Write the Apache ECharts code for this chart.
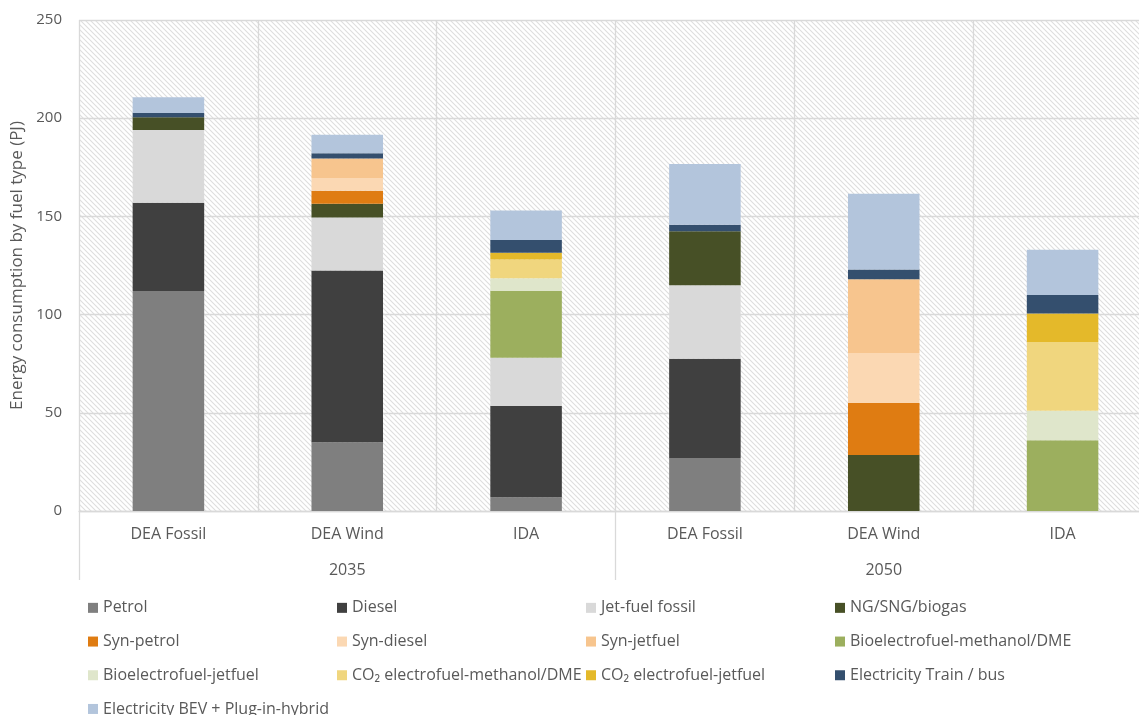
<!DOCTYPE html>
<html>
<head>
<meta charset="utf-8">
<script src="https://cdn.jsdelivr.net/npm/echarts@6/dist/echarts.min.js"></script>
<style>
html,body{margin:0;padding:0;background:#fff;overflow:hidden;}
#chart{width:1152px;height:715px;}
</style>
</head>
<body>
<div id="chart"></div>
<script>
// ---- Data ----
const categories = ['DEA Fossil', 'DEA Wind', 'IDA', 'DEA Fossil', 'DEA Wind', 'IDA'];
const years = ['2035', '2050'];
const yTicks = { min: 0, max: 250, interval: 50 };

const petrol       = [112, 35, 7, 27, 0, 0];
const diesel       = [45, 87.5, 46.5, 50.5, 0, 0];
const jetFossil    = [37, 27, 24.5, 37.5, 0, 0];
const ngSngBiogas  = [6.5, 7, 0, 27.5, 28.5, 0];
const synPetrol    = [0, 6.5, 0, 0, 26.5, 0];
const synDiesel    = [0, 6.5, 0, 0, 25.5, 0];
const synJetfuel   = [0, 10, 0, 0, 37.5, 0];
const bioMethanol  = [0, 0, 34, 0, 0, 36];
const bioJetfuel   = [0, 0, 6.5, 0, 0, 15];
const co2Methanol  = [0, 0, 9.5, 0, 0, 35];
const co2Jetfuel   = [0, 0, 3.5, 0, 0, 14.5];
const elecTrainBus = [2.2, 2.6, 6.5, 3.2, 5, 9.5];
const elecBEV      = [8, 9.5, 15, 31, 38.5, 23];

const seriesNames = ['Petrol', 'Diesel', 'Jet-fuel fossil', 'NG/SNG/biogas', 'Syn-petrol', 'Syn-diesel',
  'Syn-jetfuel', 'Bioelectrofuel-methanol/DME', 'Bioelectrofuel-jetfuel', 'CO\u2082 electrofuel-methanol/DME',
  'CO\u2082 electrofuel-jetfuel', 'Electricity Train / bus', 'Electricity BEV + Plug-in-hybrid'];
const seriesData = [petrol, diesel, jetFossil, ngSngBiogas, synPetrol, synDiesel, synJetfuel,
  bioMethanol, bioJetfuel, co2Methanol, co2Jetfuel, elecTrainBus, elecBEV];
const seriesColors = ['#7f7f7f', '#404040', '#d9d9d9', '#475026', '#df7c12', '#fbd8b3', '#f7c58e',
  '#9caf5e', '#dfe6cb', '#f0d67e', '#e4b92a', '#344f6e', '#b3c5dc'];

// ---- Hatch pattern ----
const tile = document.createElement('canvas');
tile.width = 5; tile.height = 5;
const tctx = tile.getContext('2d');
tctx.fillStyle = '#ffffff';
tctx.fillRect(0, 0, 5, 5);
tctx.strokeStyle = '#dedede';
tctx.lineWidth = 1.1;
tctx.beginPath();
tctx.moveTo(-1, -1); tctx.lineTo(6, 6);
tctx.moveTo(-1, 4); tctx.lineTo(1, 6);
tctx.moveTo(4, -1); tctx.lineTo(6, 1);
tctx.stroke();

const FONT = '"Open Sans", Lato, sans-serif';
const TXT = '#595959';
const GRIDC = '#d9d9d9';

const chart = echarts.init(document.getElementById('chart'), null, { renderer: 'canvas' });
chart.setOption({
  animation: false,
  textStyle: { fontFamily: FONT },
  grid: {
    left: 79, top: 20, bottom: 204, right: 0,
    show: true,
    backgroundColor: { image: tile, repeat: 'repeat' },
    borderWidth: 0
  },
  legend: {
    left: 88, top: 591, width: 1060,
    padding: 0,
    orient: 'horizontal',
    itemGap: 0,
    itemWidth: 10, itemHeight: 10,
    icon: 'rect',
    data: seriesNames,
    textStyle: { fontFamily: FONT, fontSize: 16, color: TXT, width: 234, lineHeight: 33.7 }
  },
  xAxis: [
    {
      type: 'category',
      data: categories,
      position: 'bottom',
      axisLine: { show: true, lineStyle: { color: GRIDC, width: 1.3 } },
      axisTick: { show: false },
      axisLabel: { margin: 15, fontSize: 16, color: TXT, fontFamily: FONT, interval: 0 },
      splitLine: { show: true, interval: 0, lineStyle: { color: GRIDC, width: 1.3 } }
    },
    {
      type: 'category',
      data: years,
      position: 'bottom',
      axisLine: { show: false },
      axisTick: { show: true, length: 69, lineStyle: { color: GRIDC, width: 1.3 } },
      axisLabel: { margin: 51, fontSize: 16, color: TXT, fontFamily: FONT },
      splitLine: { show: false }
    }
  ],
  yAxis: {
    type: 'value',
    min: yTicks.min, max: yTicks.max, interval: yTicks.interval,
    name: 'Energy consumption by fuel type (PJ)',
    nameLocation: 'middle',
    nameGap: 53,
    nameTextStyle: { fontSize: 17, color: TXT, fontFamily: FONT },
    axisLine: { show: false },
    axisTick: { show: false },
    axisLabel: { margin: 17, fontSize: 15, color: TXT, fontFamily: FONT },
    splitLine: { show: true, lineStyle: { color: GRIDC, width: 1.3 } }
  },
  series: seriesNames.map((name, i) => ({
    name: name,
    type: 'bar',
    stack: 'total',
    xAxisIndex: 0,
    barWidth: '40%',
    data: seriesData[i],
    itemStyle: { color: seriesColors[i] }
  }))
});
</script>
</body>
</html>
